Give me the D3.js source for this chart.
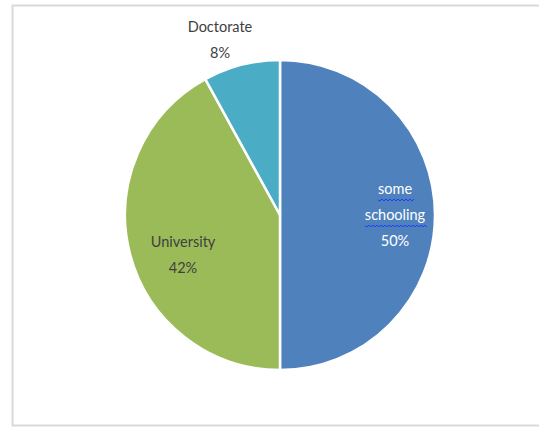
<!DOCTYPE html>
<html>
<head>
<meta charset="utf-8">
<script src="https://cdn.jsdelivr.net/npm/d3@7"></script>
<style>
  html, body { margin: 0; padding: 0; background: #fff; }
  svg { display: block; }
</style>
</head>
<body>
<svg id="chart" width="539" height="427"></svg>
<script>
// Education levels, in drawing order clockwise from 12 o'clock
const categories = ["some schooling", "University", "Doctorate"];
const values = [50, 42, 8];
const colors = ["#4f81bd", "#9bbb59", "#4bacc6"];

const svg = d3.select("#chart");
const W = 539, H = 427;

// chart area frame
svg.append("rect")
  .attr("x", 12.5).attr("y", 5.5)
  .attr("width", W + 10).attr("height", 420)
  .attr("fill", "#fff")
  .attr("stroke", "#d9d9d9").attr("stroke-width", 2);

const cx = 280, cy = 215, r = 155;

const pie = d3.pie().sort(null).value(d => d.value);
const arcs = pie(categories.map((c, i) => ({ name: c, value: values[i], color: colors[i] })));
const arc = d3.arc().innerRadius(0).outerRadius(r);

const g = svg.append("g").attr("transform", `translate(${cx},${cy})`);
g.selectAll("path.slice")
  .data(arcs)
  .join("path")
  .attr("class", "slice")
  .attr("d", arc)
  .attr("fill", d => d.data.color)
  .attr("stroke", "#fff")
  .attr("stroke-width", 2.5)
  .attr("stroke-linejoin", "round");

const fmt = v => `${v}%`;
const font = "Lato, 'Open Sans', sans-serif";

// label layout: lines and anchor for each slice
const labelSpec = {
  "some schooling": { lines: ["some", "schooling", fmt(values[0])], x: 395, y: 190, fill: "#ffffff", squiggle: [true, true, false] },
  "University": { lines: ["University", fmt(values[1])], x: 183, y: 243, fill: "#404040", squiggle: [false, false] },
  "Doctorate": { lines: ["Doctorate", fmt(values[2])], x: 220, y: 28, fill: "#404040", squiggle: [false, false] }
};

const lineH = 26;
arcs.forEach(a => {
  const s = labelSpec[a.data.name];
  s.lines.forEach((ln, i) => {
    const t = svg.append("text")
      .attr("x", s.x).attr("y", s.y + i * lineH)
      .attr("text-anchor", "middle")
      .attr("dominant-baseline", "middle")
      .attr("font-family", font)
      .attr("font-size", 14.5)
      .attr("fill", s.fill)
      .text(ln);
    if (s.squiggle[i]) {
      const bb = t.node().getBBox();
      const y0 = s.y + i * lineH + 10;
      let d = `M${bb.x},${y0}`;
      for (let x = bb.x, k = 0; x < bb.x + bb.width; x += 2, k++) {
        d += ` L${x + 2},${y0 + (k % 2 ? -1 : 1)}`;
      }
      svg.append("path").attr("d", d)
        .attr("fill", "none").attr("stroke", "#1f3bff").attr("stroke-width", 1);
    }
  });
});
</script>
</body>
</html>
